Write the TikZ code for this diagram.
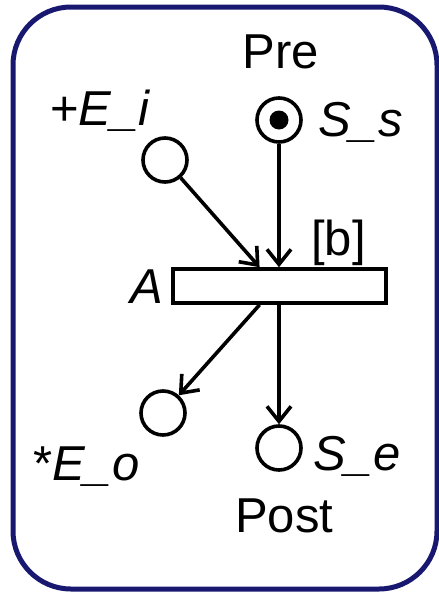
\documentclass[tikz,border=0pt]{standalone}
\usepackage{fontspec}
\setmainfont{Liberation Sans}
\usetikzlibrary{arrows.meta,calc}
\definecolor{framenavy}{RGB}{24,24,112}

\begin{document}
\begin{tikzpicture}[x=1pt,y=-1pt,
  place/.style={draw, circle, line width=3.6pt, minimum size=44pt, inner sep=0pt},
  trans/.style={draw, rectangle, line width=3.6pt, minimum width=213pt, minimum height=34pt, inner sep=0pt},
  lbl/.style={inner sep=0pt, font=\fontsize{49}{58}\selectfont},
  arc/.style={line width=3.6pt, -{Straight Barb[length=15pt,width=24pt]}}]
\useasboundingbox (0,0) rectangle (439,592);
\draw[framenavy, line width=5pt, rounded corners=58pt] (13,7) rectangle (437,589);
% places and transition
\node[place] (Ei) at (165,160) {};
\node[place] (Ss) at (279,120) {};
\fill (Ss) circle (9.5);
\node[trans] (trA) at (279.5,286) {};
\node[place] (Eo) at (163,413) {};
\node[place] (Se) at (279,448) {};
% labels
\node[lbl, anchor=base] (pre) at (281,68) {Pre};
\node[lbl, anchor=base west] (eiLbl) at (50,125) {+\textit{E\_i}};
\node[lbl, anchor=base west] (ssLbl) at (318,136) {\textit{S\_s}};
\node[lbl, anchor=base west] (bLbl) at (311,255) {[b]};
\node[lbl, anchor=base east] (aLbl) at (163,303) {\textit{A}};
\node[lbl, anchor=base west] (eoLbl) at (33,480) {*\textit{E\_o}};
\node[lbl, anchor=base west] (seLbl) at (313,470) {\textit{S\_e}};
\node[lbl, anchor=base west] (post) at (235,532) {Post};
% arcs
\draw[arc] (Ei) -- ($(trA.north west)!0.408!(trA.north east)$);
\draw[arc] (Ss) -- (Ss |- trA.north);
\draw[arc] ($(trA.south west)!0.408!(trA.south east)$) -- (Eo);
\draw[arc] (trA.south -| Se) -- (Se);
\end{tikzpicture}
\end{document}
